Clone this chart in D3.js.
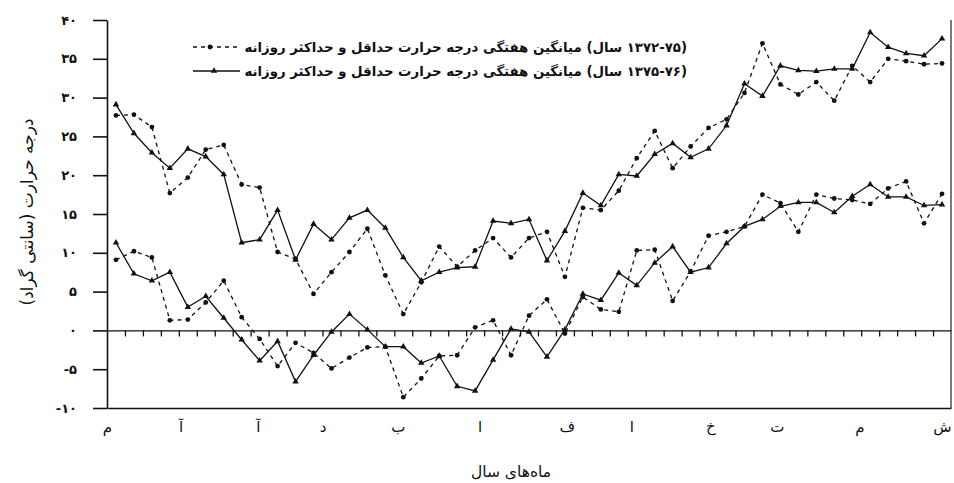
<!DOCTYPE html>
<html>
<head>
<meta charset="utf-8">
<script src="https://cdn.jsdelivr.net/npm/d3@7"></script>
<style>
  body { margin: 0; background: #fff; }
  text { font-family: 'DejaVu Sans', sans-serif; fill: #111; }
</style>
</head>
<body>
<div class="root"></div>
<script>
// weekly means, mehr -> shahrivar (47 weeks)
const maxOld = [27.7, 27.8, 26.2, 17.7, 19.7, 23.3, 23.9, 18.8, 18.4, 10.1, 9.2, 4.7, 7.5, 10.1, 13.1, 7.1,
                2.1, 6.2, 10.8, 8.2, 10.3, 11.9, 9.4, 11.9, 12.7, 6.9, 15.8, 15.5, 18.0, 22.2, 25.7, 20.9,
                23.7, 26.1, 27.2, 30.6, 37.0, 31.7, 30.4, 32.0, 29.6, 34.1, 32.0, 35.0, 34.7, 34.3, 34.4]
const minOld = [9.1, 10.2, 9.4, 1.3, 1.4, 3.6, 6.4, 1.7, -1.1, -4.6, -1.6, -2.9, -4.9, -3.5, -2.2, -2.1,
                -8.6, -6.2, -3.3, -3.2, 0.4, 1.3, -3.2, 1.9, 4.0, -0.4, 4.3, 2.7, 2.4, 10.3, 10.4, 3.8,
                7.6, 12.2, 12.7, 13.4, 17.5, 16.4, 12.7, 17.5, 17.0, 16.8, 16.3, 18.3, 19.2, 13.8, 17.6]
const maxNew = [29.1, 25.4, 22.9, 20.9, 23.4, 22.4, 20.1, 11.3, 11.7, 15.5, 9.1, 13.7, 11.7, 14.5, 15.5, 13.2,
                9.4, 6.4, 7.5, 8.1, 8.2, 14.1, 13.8, 14.3, 9.0, 12.8, 17.7, 16.1, 20.1, 19.9, 22.7, 24.1,
                22.3, 23.4, 26.4, 31.8, 30.2, 34.1, 33.5, 33.4, 33.7, 33.7, 38.4, 36.5, 35.7, 35.4, 37.6]
const minNew = [11.3, 7.3, 6.4, 7.5, 3.0, 4.4, 1.6, -1.2, -3.9, -1.4, -6.6, -3.2, -0.2, 2.1, 0.1, -2.1,
                -2.1, -4.2, -3.3, -7.2, -7.8, -3.8, 0.2, -0.2, -3.4, 0.1, 4.7, 3.9, 7.4, 5.8, 8.7, 10.8,
                7.5, 8.1, 11.2, 13.4, 14.3, 16.0, 16.5, 16.5, 15.2, 17.3, 18.8, 17.2, 17.2, 16.1, 16.2]

const months = ['م', 'آ', 'آ', 'د', 'ب', 'ا', 'ف', 'ا', 'خ', 'ت', 'م', 'ش']
const monthPos = [0, 4.1, 8.4, 12, 16.2, 20.75, 25.6, 29.2, 33.6, 37.3, 41.9, 46.5]
const yTicks = [-10, -5, 0, 5, 10, 15, 20, 25, 30, 35, 40]

const legendOld = 'میانگین هفتگی درجه حرارت حداقل و حداکثر روزانه (سال \u200E۱۳۷۲-۷۵)'
const legendNew = 'میانگین هفتگی درجه حرارت حداقل و حداکثر روزانه (سال \u200E۱۳۷۵-۷۶)'
const yTitle = 'درجه حرارت (سانتی گراد)'
const xTitle = 'ماه\u200cهای سال'

const fa = n => (n < 0 ? '-' : '') + String(Math.abs(n)).replace(/\d/g, c => '۰۱۲۳۴۵۶۷۸۹'[c])

const margin = { top: 20, bottom: 408, left: 107, right: 951 }

const svgWidth = 954
    , svgHeight = 483

const svg = d3.select('.root')
              .append('svg')
              .attr('width', svgWidth)
              .attr('height', svgHeight)

const x = d3.scaleLinear()
            .domain([0, maxOld.length])
            .range([margin.left, margin.right])

const y = d3.scaleLinear()
            .domain([-10, 40])
            .range([margin.bottom, margin.top])

// y axis
svg.append('g')
   .attr('transform', `translate(${margin.left},0)`)
   .call(d3.axisLeft(y).tickValues(yTicks).tickSize(14).tickPadding(16).tickFormat(fa).tickSizeOuter(0))
   .call(g => g.selectAll('text').style('font-size', '13px').style('font-weight', 'bold'))
   .call(g => g.selectAll('line, path').attr('stroke', '#111').attr('stroke-width', 1.6))

// bottom line + month letters
svg.append('g')
   .attr('transform', `translate(0,${margin.bottom})`)
   .call(d3.axisBottom(x).tickValues(monthPos).tickSize(0).tickPadding(13).tickFormat((d, i) => months[i]))
   .call(g => g.selectAll('text').style('font-size', '15px'))
   .call(g => g.select('path').attr('stroke', '#111').attr('stroke-width', 1.4))

// zero line with week ticks
svg.append('g')
   .attr('transform', `translate(0,${y(0)})`)
   .call(d3.axisBottom(x).tickValues(d3.range(1, maxOld.length)).tickSize(6).tickSizeOuter(0).tickFormat(''))
   .call(g => g.selectAll('line, path').attr('stroke', '#111').attr('stroke-width', 1.3))

// right frame
svg.append('line')
   .attr('x1', margin.right).attr('x2', margin.right)
   .attr('y1', y(40)).attr('y2', y(-10))
   .attr('stroke', '#222').attr('stroke-width', 1.2)

const line = d3.line()
               .x((d, i) => x(i + 0.5))
               .y(d => y(d))

const series = [
  { values: maxOld, dash: '4,4', mark: 'dot' },
  { values: minOld, dash: '4,4', mark: 'dot' },
  { values: maxNew, dash: null, mark: 'tri' },
  { values: minNew, dash: null, mark: 'tri' }
]

const tri = d3.symbol(d3.symbolTriangle, 18)

series.forEach(s => {
  svg.append('path')
     .datum(s.values)
     .attr('d', line)
     .attr('fill', 'none')
     .attr('stroke', '#111')
     .attr('stroke-width', 1.3)
     .attr('stroke-dasharray', s.dash)

  const g = svg.append('g')
  if (s.mark === 'dot') {
    g.selectAll('circle')
     .data(s.values)
     .enter()
     .append('circle')
     .attr('cx', (d, i) => x(i + 0.5))
     .attr('cy', d => y(d))
     .attr('r', 2.4)
     .attr('fill', '#111')
  } else {
    g.selectAll('path')
     .data(s.values)
     .enter()
     .append('path')
     .attr('d', tri)
     .attr('transform', (d, i) => `translate(${x(i + 0.5)},${y(d)})`)
     .attr('fill', '#111')
  }
})

// legend
const legend = svg.append('g')
const legendRows = [
  { label: legendOld, dash: '4,4', mark: 'dot', yy: 47 },
  { label: legendNew, dash: null, mark: 'tri', yy: 71 }
]
legendRows.forEach(r => {
  legend.append('line')
        .attr('x1', 193).attr('x2', 240)
        .attr('y1', r.yy).attr('y2', r.yy)
        .attr('stroke', '#111').attr('stroke-width', 1.4)
        .attr('stroke-dasharray', r.dash)
  if (r.mark === 'dot') {
    legend.append('circle').attr('cx', 210).attr('cy', r.yy).attr('r', 2.4).attr('fill', '#111')
  } else {
    legend.append('path').attr('d', tri).attr('transform', `translate(214,${r.yy})`).attr('fill', '#111')
  }
  legend.append('text')
        .attr('x', 687)
        .attr('y', r.yy)
        .attr('dy', '0.35em')
        .attr('text-anchor', 'end')
        .style('font-size', '13.3px')
        .style('font-weight', 'bold')
        .text(r.label)
})

// titles
svg.append('text')
   .attr('transform', 'translate(27,212) rotate(-90)')
   .attr('text-anchor', 'middle')
   .attr('dy', '0.35em')
   .style('font-size', '17px')
   .text(yTitle)

svg.append('text')
   .attr('x', 511)
   .attr('y', 472)
   .attr('text-anchor', 'middle')
   .attr('dy', '0.35em')
   .style('font-size', '15.5px')
   .text(xTitle)
</script>
</body>
</html>
